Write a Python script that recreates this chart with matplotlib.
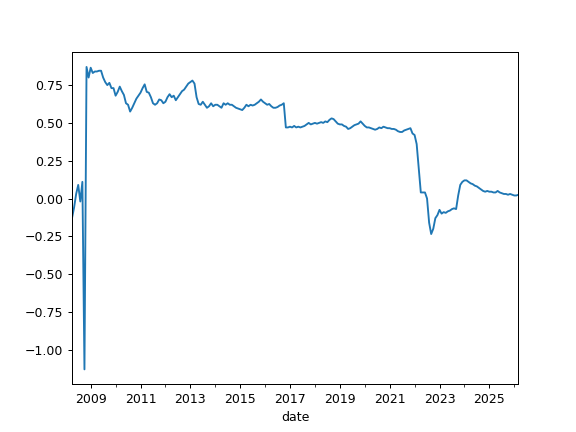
import matplotlib
matplotlib.use("Agg")
import matplotlib.pyplot as plt
import pandas as pd
import numpy as np

start_month = "2008-04"
n_months = 216

v2008 = [-0.13, -0.06, 0.03, 0.09, -0.02, 0.11, -1.13, 0.87, 0.80]
v2009 = [0.865, 0.83, 0.84, 0.84, 0.845, 0.845, 0.80, 0.77, 0.75, 0.765, 0.73, 0.73]
v2010 = [0.68, 0.705, 0.74, 0.71, 0.685, 0.63, 0.62, 0.575, 0.60, 0.63, 0.66, 0.68]
v2011 = [0.70, 0.73, 0.755, 0.705, 0.70, 0.67, 0.63, 0.62, 0.63, 0.655, 0.65, 0.63]
v2012 = [0.64, 0.67, 0.69, 0.67, 0.68, 0.65, 0.67, 0.69, 0.71, 0.72, 0.74, 0.76]
v2013 = [0.77, 0.78, 0.76, 0.67, 0.625, 0.62, 0.64, 0.62, 0.60, 0.61, 0.63, 0.61]
v2014 = [0.62, 0.62, 0.61, 0.60, 0.63, 0.62, 0.63, 0.62, 0.62, 0.61, 0.60, 0.595]
v2015 = [0.59, 0.585, 0.60, 0.62, 0.61, 0.62, 0.615, 0.62, 0.63, 0.64, 0.655, 0.64]
v2016 = [0.63, 0.62, 0.625, 0.61, 0.60, 0.60, 0.605, 0.615, 0.62, 0.63, 0.47, 0.47]
v2017 = [0.475, 0.47, 0.48, 0.47, 0.475, 0.47, 0.475, 0.48, 0.49, 0.50, 0.49, 0.495]
v2018 = [0.50, 0.495, 0.50, 0.505, 0.50, 0.51, 0.505, 0.52, 0.53, 0.525, 0.51, 0.495]
v2019 = [0.49, 0.49, 0.48, 0.475, 0.46, 0.465, 0.475, 0.485, 0.49, 0.495, 0.51, 0.495]
v2020 = [0.48, 0.47, 0.47, 0.465, 0.46, 0.455, 0.46, 0.47, 0.465, 0.475, 0.47, 0.465]
v2021 = [0.465, 0.46, 0.46, 0.455, 0.445, 0.44, 0.44, 0.45, 0.455, 0.46, 0.465, 0.43]
v2022 = [0.42, 0.36, 0.20, 0.04, 0.04, 0.04, 0.0, -0.16, -0.235, -0.20, -0.13, -0.11]
v2023 = [-0.075, -0.10, -0.09, -0.095, -0.085, -0.08, -0.07, -0.065, -0.07, 0.02, 0.09, 0.11]
v2024 = [0.12, 0.12, 0.11, 0.10, 0.095, 0.085, 0.08, 0.07, 0.06, 0.05, 0.045, 0.05]
v2025 = [0.045, 0.045, 0.04, 0.04, 0.05, 0.04, 0.035, 0.03, 0.03, 0.025, 0.03, 0.025]
v2026 = [0.02, 0.02, 0.025]

values = (v2008 + v2009 + v2010 + v2011 + v2012 + v2013 + v2014 + v2015 + v2016
          + v2017 + v2018 + v2019 + v2020 + v2021 + v2022 + v2023 + v2024 + v2025 + v2026)

idx = pd.period_range(start=start_month, periods=len(values), freq="M")
idx.name = "date"
s = pd.Series(values, index=idx)

fig, ax = plt.subplots(figsize=(6.4, 4.8), dpi=90)
s.plot(ax=ax)
fig.savefig("out.png", dpi=90)
